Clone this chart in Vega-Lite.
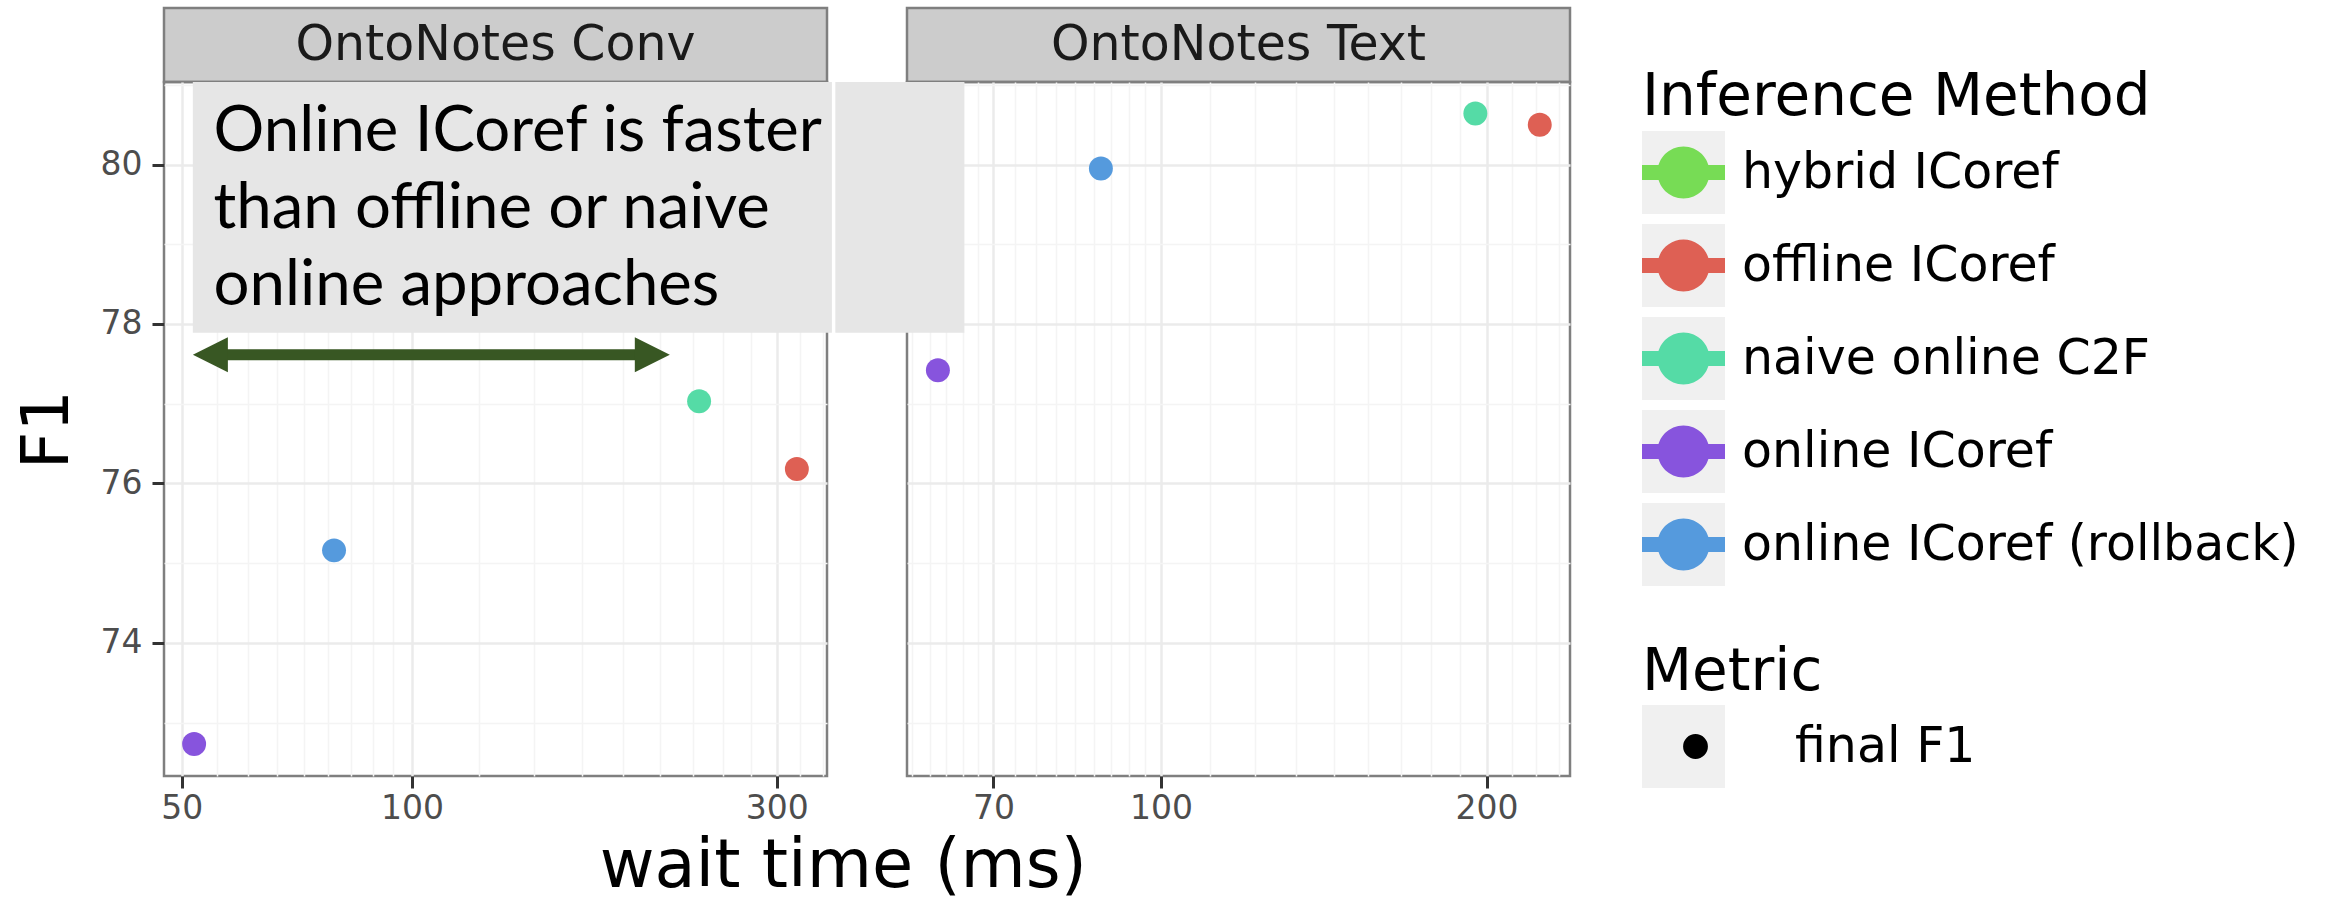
{
  "$schema": "https://vega.github.io/schema/vega-lite/v6.json",
  "background": "white",
  "padding": {"left": 13, "top": 6, "right": 5, "bottom": 4},
  "autosize": {"type": "pad"},
  "bounds": "full",
  "spacing": 0,
  "title": {"text": "wait time (ms)", "orient": "bottom", "anchor": "start", "frame": "bounds", "dx": 586, "offset": 61, "baseline": "alphabetic", "font": "DejaVu Sans", "fontSize": 67, "fontWeight": "normal", "color": "black"},
  "datasets": {
    "points": [
      {"panel": "OntoNotes Conv", "method": "online ICoref", "metric": "final F1", "wait": 51.9, "f1": 72.73},
      {"panel": "OntoNotes Conv", "method": "online ICoref (rollback)", "metric": "final F1", "wait": 79.1, "f1": 75.16},
      {"panel": "OntoNotes Conv", "method": "naive online C2F", "metric": "final F1", "wait": 237.5, "f1": 77.03},
      {"panel": "OntoNotes Conv", "method": "offline ICoref", "metric": "final F1", "wait": 318.8, "f1": 76.18},
      {"panel": "OntoNotes Text", "method": "online ICoref", "metric": "final F1", "wait": 62.2, "f1": 77.42},
      {"panel": "OntoNotes Text", "method": "online ICoref (rollback)", "metric": "final F1", "wait": 88.0, "f1": 79.95},
      {"panel": "OntoNotes Text", "method": "naive online C2F", "metric": "final F1", "wait": 195.3, "f1": 80.64},
      {"panel": "OntoNotes Text", "method": "offline ICoref", "metric": "final F1", "wait": 224.0, "f1": 80.50}
    ],
    "strips": [
      {"panel": "OntoNotes Conv"},
      {"panel": "OntoNotes Text"}
    ],
    "box": [
      {"panel": "OntoNotes Conv", "x": 51.7, "x2": 354.3, "y": 77.89, "y2": 81.036},
      {"panel": "OntoNotes Text", "x": 50, "x2": 65.8, "y": 77.89, "y2": 81.036}
    ],
    "note": [
      {"x": 55.03, "y": 80.168, "label": ["Online ICoref is faster", "than offline or naive", "online approaches"]}
    ],
    "arrow": [
      {"from": 54.5, "to": 206.3, "y": 77.615}
    ]
  },
  "hconcat": [
    {
      "vconcat": [
        {
          "width": 663,
          "height": 74,
          "view": {"fill": "#cccccc", "stroke": "#7f7f7f", "strokeWidth": 2.5},
          "data": {"name": "strips"},
          "transform": [{"filter": "datum.panel == 'OntoNotes Conv'"}],
          "mark": {"type": "text", "font": "DejaVu Sans", "fontSize": 49, "color": "#1a1a1a", "baseline": "middle", "align": "center"},
          "encoding": {"text": {"field": "panel", "type": "nominal"}}
        },
        {
          "width": 663,
          "height": 694,
          "view": {"stroke": "#7f7f7f", "strokeWidth": 2.5},
          "layer": [
            {
              "data": {"name": "box"},
              "transform": [{"filter": "datum.panel == 'OntoNotes Conv'"}],
              "mark": {"type": "rect", "color": "#e6e6e6", "clip": false},
              "encoding": {
                "x": {"field": "x", "type": "quantitative", "scale": {"type": "log", "domain": [47.4, 349.1], "nice": false},
                  "axis": {"orient": "bottom", "values": [55.556, 61.111, 66.667, 72.222, 77.778, 83.333, 88.889, 94.444, 122.22, 144.44, 166.67, 188.89, 211.11, 233.33, 255.56, 277.78, 322.22, 344.44], "grid": true, "gridColor": "#f4f4f4", "gridWidth": 1.5, "labels": false, "ticks": false, "domain": false, "title": null}},
                "x2": {"field": "x2"},
                "y": {"field": "y", "type": "quantitative", "scale": {"domain": [72.329, 81.036], "nice": false, "zero": false},
                  "axis": {"orient": "left", "values": [73, 75, 77, 79, 81], "grid": true, "gridColor": "#f4f4f4", "gridWidth": 1.5, "labels": false, "ticks": false, "domain": false, "title": null}},
                "y2": {"field": "y2"}
              }
            },
            {
              "data": {"name": "points"},
              "transform": [{"filter": "datum.panel == 'OntoNotes Conv'"}],
              "mark": {"type": "point", "filled": true, "opacity": 1, "size": 573, "strokeWidth": 0},
              "encoding": {
                "x": {"field": "wait", "type": "quantitative", "scale": {"type": "log", "domain": [47.4, 349.1], "nice": false},
                  "axis": {"orient": "bottom", "values": [50, 100, 300], "format": "d", "grid": true, "gridColor": "#ebebeb", "gridWidth": 2.5, "title": null, "labelPadding": 4}},
                "y": {"field": "f1", "type": "quantitative", "scale": {"domain": [72.329, 81.036], "nice": false, "zero": false},
                  "axis": {"orient": "left", "values": [74, 76, 78, 80], "grid": true, "gridColor": "#ebebeb", "gridWidth": 2.5, "title": "F1", "titlePadding": 19, "labelPadding": 10}},
                "color": {"field": "method", "type": "nominal",
                  "scale": {"domain": ["hybrid ICoref", "offline ICoref", "naive online C2F", "online ICoref", "online ICoref (rollback)"], "range": ["#77DC55", "#DE6054", "#55DBA6", "#8754DD", "#559ADD"]},
                  "legend": {"title": "Inference Method", "orient": "none", "legendX": 1478, "legendY": 61, "zindex": 2,
                    "symbolType": "M0,-1L0,1M-1,-0.18L1,-0.18L1,0.18L-1,0.18ZM0.6265,0C0.6265,0.346,0.346,0.6265,0,0.6265C-0.346,0.6265,-0.6265,0.346,-0.6265,0C-0.6265,-0.346,-0.346,-0.6265,0,-0.6265C0.346,-0.6265,0.6265,-0.346,0.6265,0Z",
                    "symbolSize": 6889, "symbolStrokeWidth": 0, "symbolOpacity": 1, "rowPadding": 10, "labelOffset": 17, "titlePadding": 4}},
                "opacity": {"field": "method", "type": "ordinal",
                  "scale": {"domain": ["online ICoref (rollback)", "online ICoref", "naive online C2F", "offline ICoref", "hybrid ICoref"], "range": [1, 1, 1, 1, 1]},
                  "legend": {"values": ["hybrid ICoref", "offline ICoref", "naive online C2F", "online ICoref", "online ICoref (rollback)"], "labelExpr": "''",
                    "title": "Inference Method", "titleOpacity": 0, "labelOpacity": 0, "orient": "none", "legendX": 1478, "legendY": 61, "zindex": 1,
                    "symbolType": "M-1,-1L1,-1L1,1L-1,1Z", "symbolSize": 6889, "symbolStrokeWidth": 0, "symbolFillColor": "#f0f0f0", "symbolStrokeColor": "#f0f0f0", "symbolOpacity": 1, "rowPadding": 10, "labelOffset": 17, "titlePadding": 4}},
                "shape": {"field": "metric", "type": "nominal",
                  "scale": {"domain": ["final F1"], "range": ["circle"]},
                  "legend": {"title": "Metric", "orient": "none", "legendX": 1478, "legendY": 636, "zindex": 2,
                    "symbolSize": 616, "symbolOffset": 29, "clipHeight": 83, "symbolFillColor": "black", "symbolStrokeColor": "black", "symbolStrokeWidth": 0, "symbolOpacity": 1, "labelOffset": 75, "titlePadding": 3}},
                "strokeWidth": {"field": "metric", "type": "ordinal",
                  "scale": {"domain": ["final F1", "other"], "range": [0, 0]},
                  "legend": {"values": ["final F1"], "labelExpr": "''", "title": "Metric", "titleOpacity": 0, "labelOpacity": 0, "orient": "none", "legendX": 1478, "legendY": 636, "zindex": 1,
                    "symbolType": "M-1,-1L1,-1L1,1L-1,1Z", "symbolSize": 6889, "symbolFillColor": "#f0f0f0", "symbolStrokeColor": "#f0f0f0", "symbolOpacity": 1, "labelOffset": 17, "titlePadding": 3}}
              }
            },
            {
              "data": {"name": "note"},
              "mark": {"type": "text", "font": "Lato", "fontSize": 63.5, "lineHeight": 77, "align": "left", "baseline": "alphabetic", "color": "black", "clip": false},
              "encoding": {
                "x": {"field": "x", "type": "quantitative", "scale": {"type": "log", "domain": [47.4, 349.1], "nice": false}, "axis": null},
                "y": {"field": "y", "type": "quantitative", "scale": {"domain": [72.329, 81.036], "nice": false, "zero": false}, "axis": null},
                "text": {"field": "label"}
              }
            },
            {
              "data": {"name": "arrow"},
              "mark": {"type": "rule", "color": "#385723", "strokeWidth": 11, "clip": false},
              "encoding": {
                "x": {"field": "from", "type": "quantitative", "scale": {"type": "log", "domain": [47.4, 349.1], "nice": false}, "axis": null},
                "x2": {"field": "to"},
                "y": {"field": "y", "type": "quantitative", "scale": {"domain": [72.329, 81.036], "nice": false, "zero": false}, "axis": null}
              }
            },
            {
              "data": {"name": "arrow"},
              "mark": {"type": "point", "shape": "M-1,0L1,-1L1,1Z", "size": 1225, "filled": true, "opacity": 1, "color": "#385723", "strokeWidth": 0, "clip": false},
              "encoding": {
                "x": {"field": "from", "type": "quantitative", "scale": {"type": "log", "domain": [47.4, 349.1], "nice": false}, "axis": null},
                "y": {"field": "y", "type": "quantitative", "scale": {"domain": [72.329, 81.036], "nice": false, "zero": false}, "axis": null}
              }
            },
            {
              "data": {"name": "arrow"},
              "mark": {"type": "point", "shape": "M1,0L-1,-1L-1,1Z", "size": 1225, "filled": true, "opacity": 1, "color": "#385723", "strokeWidth": 0, "clip": false},
              "encoding": {
                "x": {"field": "to", "type": "quantitative", "scale": {"type": "log", "domain": [47.4, 349.1], "nice": false}, "axis": null},
                "y": {"field": "y", "type": "quantitative", "scale": {"domain": [72.329, 81.036], "nice": false, "zero": false}, "axis": null}
              }
            }
          ],
          "resolve": {"axis": {"x": "independent", "y": "independent"}}
        }
      ],
      "spacing": 0,
      "bounds": "flush"
    },
    {
      "vconcat": [
        {
          "width": 663,
          "height": 74,
          "view": {"fill": "#cccccc", "stroke": "#7f7f7f", "strokeWidth": 2.5},
          "data": {"name": "strips"},
          "transform": [{"filter": "datum.panel == 'OntoNotes Text'"}],
          "mark": {"type": "text", "font": "DejaVu Sans", "fontSize": 49, "color": "#1a1a1a", "baseline": "middle", "align": "center"},
          "encoding": {"text": {"field": "panel", "type": "nominal"}}
        },
        {
          "width": 663,
          "height": 694,
          "view": {"stroke": "#7f7f7f", "strokeWidth": 2.5},
          "layer": [
            {
              "data": {"name": "box"},
              "transform": [{"filter": "datum.panel == 'OntoNotes Text'"}],
              "mark": {"type": "rect", "color": "#e6e6e6", "clip": false},
              "encoding": {
                "x": {"field": "x", "type": "quantitative", "scale": {"type": "log", "domain": [58.24, 238.9], "nice": false},
                  "axis": {"orient": "bottom", "values": [58.889, 61.111, 63.333, 65.556, 67.778, 73.333, 76.667, 80, 83.333, 86.667, 90, 93.333, 96.667, 111.11, 122.22, 133.33, 144.44, 155.56, 166.67, 177.78, 188.89, 211.11, 222.22, 233.33], "grid": true, "gridColor": "#f4f4f4", "gridWidth": 1.5, "labels": false, "ticks": false, "domain": false, "title": null}},
                "x2": {"field": "x2"},
                "y": {"field": "y", "type": "quantitative", "scale": {"domain": [72.329, 81.036], "nice": false, "zero": false},
                  "axis": {"orient": "left", "values": [73, 75, 77, 79, 81], "grid": true, "gridColor": "#f4f4f4", "gridWidth": 1.5, "labels": false, "ticks": false, "domain": false, "title": null}},
                "y2": {"field": "y2"}
              }
            },
            {
              "data": {"name": "points"},
              "transform": [{"filter": "datum.panel == 'OntoNotes Text'"}],
              "mark": {"type": "point", "filled": true, "opacity": 1, "size": 573, "strokeWidth": 0},
              "encoding": {
                "x": {"field": "wait", "type": "quantitative", "scale": {"type": "log", "domain": [58.24, 238.9], "nice": false},
                  "axis": {"orient": "bottom", "values": [70, 100, 200], "format": "d", "grid": true, "gridColor": "#ebebeb", "gridWidth": 2.5, "title": null, "labelPadding": 4}},
                "y": {"field": "f1", "type": "quantitative", "scale": {"domain": [72.329, 81.036], "nice": false, "zero": false},
                  "axis": {"orient": "left", "values": [74, 76, 78, 80], "grid": true, "gridColor": "#ebebeb", "gridWidth": 2.5, "labels": false, "ticks": false, "domain": false, "title": null}},
                "color": {"field": "method", "type": "nominal",
                  "scale": {"domain": ["hybrid ICoref", "offline ICoref", "naive online C2F", "online ICoref", "online ICoref (rollback)"], "range": ["#77DC55", "#DE6054", "#55DBA6", "#8754DD", "#559ADD"]},
                  "legend": {"title": "Inference Method", "orient": "none", "legendX": 1478, "legendY": 61, "zindex": 2,
                    "symbolType": "M0,-1L0,1M-1,-0.18L1,-0.18L1,0.18L-1,0.18ZM0.6265,0C0.6265,0.346,0.346,0.6265,0,0.6265C-0.346,0.6265,-0.6265,0.346,-0.6265,0C-0.6265,-0.346,-0.346,-0.6265,0,-0.6265C0.346,-0.6265,0.6265,-0.346,0.6265,0Z",
                    "symbolSize": 6889, "symbolStrokeWidth": 0, "symbolOpacity": 1, "rowPadding": 10, "labelOffset": 17, "titlePadding": 4}},
                "opacity": {"field": "method", "type": "ordinal",
                  "scale": {"domain": ["online ICoref (rollback)", "online ICoref", "naive online C2F", "offline ICoref", "hybrid ICoref"], "range": [1, 1, 1, 1, 1]},
                  "legend": {"values": ["hybrid ICoref", "offline ICoref", "naive online C2F", "online ICoref", "online ICoref (rollback)"], "labelExpr": "''",
                    "title": "Inference Method", "titleOpacity": 0, "labelOpacity": 0, "orient": "none", "legendX": 1478, "legendY": 61, "zindex": 1,
                    "symbolType": "M-1,-1L1,-1L1,1L-1,1Z", "symbolSize": 6889, "symbolStrokeWidth": 0, "symbolFillColor": "#f0f0f0", "symbolStrokeColor": "#f0f0f0", "symbolOpacity": 1, "rowPadding": 10, "labelOffset": 17, "titlePadding": 4}},
                "shape": {"field": "metric", "type": "nominal",
                  "scale": {"domain": ["final F1"], "range": ["circle"]},
                  "legend": {"title": "Metric", "orient": "none", "legendX": 1478, "legendY": 636, "zindex": 2,
                    "symbolSize": 616, "symbolOffset": 29, "clipHeight": 83, "symbolFillColor": "black", "symbolStrokeColor": "black", "symbolStrokeWidth": 0, "symbolOpacity": 1, "labelOffset": 75, "titlePadding": 3}},
                "strokeWidth": {"field": "metric", "type": "ordinal",
                  "scale": {"domain": ["final F1", "other"], "range": [0, 0]},
                  "legend": {"values": ["final F1"], "labelExpr": "''", "title": "Metric", "titleOpacity": 0, "labelOpacity": 0, "orient": "none", "legendX": 1478, "legendY": 636, "zindex": 1,
                    "symbolType": "M-1,-1L1,-1L1,1L-1,1Z", "symbolSize": 6889, "symbolFillColor": "#f0f0f0", "symbolStrokeColor": "#f0f0f0", "symbolOpacity": 1, "labelOffset": 17, "titlePadding": 3}}
              }
            }
          ],
          "resolve": {"axis": {"x": "independent", "y": "independent"}}
        }
      ],
      "spacing": 0,
      "bounds": "flush"
    }
  ],
  "resolve": {
    "scale": {"x": "independent", "y": "independent", "color": "shared", "shape": "shared", "opacity": "shared", "strokeWidth": "shared"},
    "legend": {"color": "shared", "shape": "shared", "opacity": "shared", "strokeWidth": "shared"}
  },
  "config": {
    "font": "DejaVu Sans",
    "view": {"stroke": null},
    "axis": {
      "labelFont": "DejaVu Sans",
      "labelFontSize": 33,
      "labelColor": "#4d4d4d",
      "titleFont": "DejaVu Sans",
      "titleFontSize": 65,
      "titleFontWeight": "normal",
      "titleColor": "black",
      "tickColor": "#333333",
      "tickWidth": 3,
      "tickSize": 12,
      "domain": false
    },
    "legend": {
      "padding": 0,
      "labelFont": "DejaVu Sans",
      "labelFontSize": 49,
      "labelColor": "black",
      "labelLimit": 1000,
      "titleFont": "DejaVu Sans",
      "titleFontSize": 58,
      "titleFontWeight": "normal",
      "titleColor": "black",
      "titleLimit": 1000
    }
  }
}
